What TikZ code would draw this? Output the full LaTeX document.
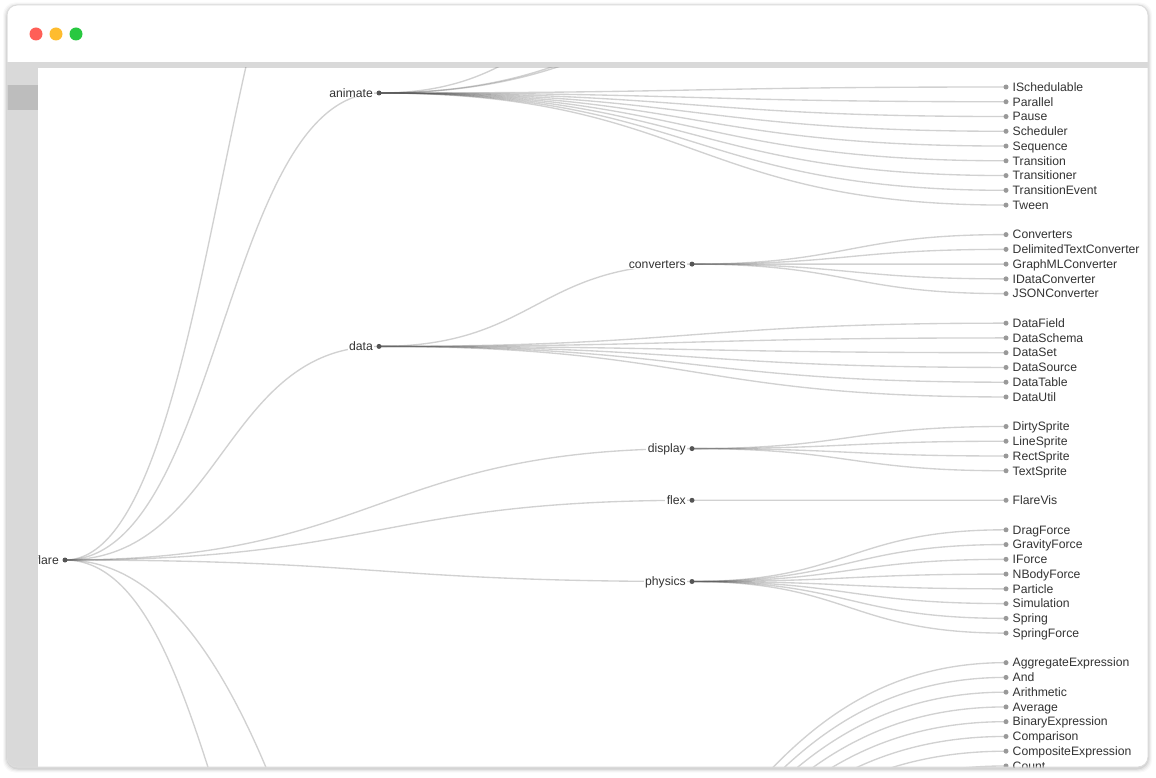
\documentclass[tikz,border=0pt]{standalone}
\usepackage{fontspec}
\setmainfont{Liberation Sans}
\usetikzlibrary{calc}
\definecolor{linkc}{HTML}{555555}
\definecolor{innerc}{HTML}{555555}
\definecolor{leafc}{HTML}{999999}
\definecolor{txtc}{HTML}{333333}
\definecolor{barc}{HTML}{D9D9D9}
\definecolor{bandc}{HTML}{BDBDBD}
\definecolor{frame}{HTML}{DCDCDC}
\definecolor{tlred}{HTML}{FF5F57}
\definecolor{tlyel}{HTML}{FEBC2E}
\definecolor{tlgrn}{HTML}{28C840}
\newcommand\lf[2]{\coordinate (#1) at (1006,{87+14.76*#2});}
\newcommand\lnk[2]{\draw[link] let \p1=(#1), \p2=(#2) in (#1) .. controls ({0.5*\x1+0.5*\x2},\y1) and ({0.5*\x1+0.5*\x2},\y2) .. (#2);}
\newcommand\leafnode[1]{\node[ldot] (#1-d) at (#1) {}; \node[llbl] (#1-l) at ([xshift=6.5pt,yshift=-4.3pt]#1) {#1};}
\newcommand\innernode[1]{\node[idot] (#1-d) at (#1) {}; \node[ilbl] (#1-l) at ([xshift=-4.5pt,yshift=-4.3pt]#1) {#1};}
\begin{document}
\begin{tikzpicture}[x=1pt,y=-1pt,
  link/.style={draw=linkc, draw opacity=0.27, line width=1.35pt},
  ldot/.style={circle, fill=leafc, inner sep=0pt, minimum size=5pt},
  idot/.style={circle, fill=innerc, inner sep=0pt, minimum size=5pt},
  lbltxt/.style={font=\fontsize{12.2}{14}\selectfont, text=txtc},
  llbl/.style={lbltxt, anchor=base west, inner sep=0pt},
  ilbl/.style={lbltxt, anchor=base east, inner xsep=1.5pt, inner ysep=0pt, fill=white},
]
\useasboundingbox (0,0) rectangle (1156,778);
% window shadow
\foreach \d/\o in {4/0.025,3/0.035,2/0.05,1/0.07}{
  \fill[black, opacity=\o, rounded corners=12pt] (7-\d,5-\d+1.5) rectangle (1148+\d,767+\d+1.5);
}
\fill[white, rounded corners=10pt] (7,5) rectangle (1148,767);
\begin{scope}
  \clip[rounded corners=10pt] (7,5) rectangle (1148,767);
  \fill[barc] (7,62) rectangle (1148,68);
  \fill[barc] (7,68) rectangle (38,767);
  \fill[bandc] (7,85) rectangle (38,110);
  \begin{scope}
    \clip (38,68) rectangle (1148,767);
    % positions
    \coordinate (flare) at (65,560);
    \coordinate (analytics) at (379,-201);
    \coordinate (animate) at (379,93);
    \coordinate (data) at (379,346.4);
    \coordinate (display) at (692,448.6);
    \coordinate (flex) at (692,500.3);
    \coordinate (physics) at (692,581.5);
    \coordinate (query) at (379,1063.4);
    \coordinate (scale) at (692,1673.7);
    \coordinate (interpolate) at (692,-1.6);
    \coordinate (converters) at (692,264.1);
    \lf{Easing}{-13}\lf{FunctionSequence}{-12}
    \lf{ISchedulable}{0}\lf{Parallel}{1}\lf{Pause}{2}\lf{Scheduler}{3}\lf{Sequence}{4}
    \lf{Transition}{5}\lf{Transitioner}{6}\lf{TransitionEvent}{7}\lf{Tween}{8}
    \lf{Converters}{10}\lf{DelimitedTextConverter}{11}\lf{GraphMLConverter}{12}\lf{IDataConverter}{13}\lf{JSONConverter}{14}
    \lf{DataField}{16}\lf{DataSchema}{17}\lf{DataSet}{18}\lf{DataSource}{19}\lf{DataTable}{20}\lf{DataUtil}{21}
    \lf{DirtySprite}{23}\lf{LineSprite}{24}\lf{RectSprite}{25}\lf{TextSprite}{26}
    \lf{FlareVis}{28}
    \lf{DragForce}{30}\lf{GravityForce}{31}\lf{IForce}{32}\lf{NBodyForce}{33}\lf{Particle}{34}\lf{Simulation}{35}\lf{Spring}{36}\lf{SpringForce}{37}
    \lf{AggregateExpression}{39}\lf{And}{40}\lf{Arithmetic}{41}\lf{Average}{42}\lf{BinaryExpression}{43}\lf{Comparison}{44}\lf{CompositeExpression}{45}\lf{Count}{46}
    % links
    \foreach \t in {analytics,animate,data,display,flex,physics,query,scale}{\lnk{flare}{\t}}
    \foreach \t in {Easing,FunctionSequence,interpolate,ISchedulable,Parallel,Pause,Scheduler,Sequence,Transition,Transitioner,TransitionEvent,Tween}{\lnk{animate}{\t}}
    \foreach \t in {converters,DataField,DataSchema,DataSet,DataSource,DataTable,DataUtil}{\lnk{data}{\t}}
    \foreach \t in {Converters,DelimitedTextConverter,GraphMLConverter,IDataConverter,JSONConverter}{\lnk{converters}{\t}}
    \foreach \t in {DirtySprite,LineSprite,RectSprite,TextSprite}{\lnk{display}{\t}}
    \lnk{flex}{FlareVis}
    \foreach \t in {DragForce,GravityForce,IForce,NBodyForce,Particle,Simulation,Spring,SpringForce}{\lnk{physics}{\t}}
    \foreach \t in {AggregateExpression,And,Arithmetic,Average,BinaryExpression,Comparison,CompositeExpression,Count}{\lnk{query}{\t}}
    % nodes
    \foreach \n in {flare,animate,data,converters,display,flex,physics}{\innernode{\n}}
    \foreach \n in {ISchedulable,Parallel,Pause,Scheduler,Sequence,Transition,Transitioner,TransitionEvent,Tween,
      Converters,DelimitedTextConverter,GraphMLConverter,IDataConverter,JSONConverter,
      DataField,DataSchema,DataSet,DataSource,DataTable,DataUtil,
      DirtySprite,LineSprite,RectSprite,TextSprite,FlareVis,
      DragForce,GravityForce,IForce,NBodyForce,Particle,Simulation,Spring,SpringForce,
      AggregateExpression,And,Arithmetic,Average,BinaryExpression,Comparison,CompositeExpression,Count}{\leafnode{\n}}
  \end{scope}
\end{scope}
\draw[frame, line width=1pt, rounded corners=10pt] (7,5) rectangle (1148,767);
% traffic lights
\fill[tlred] (36,34) circle (6.5pt);
\fill[tlyel] (56,34) circle (6.5pt);
\fill[tlgrn] (76,34) circle (6.5pt);
\end{tikzpicture}
\end{document}
